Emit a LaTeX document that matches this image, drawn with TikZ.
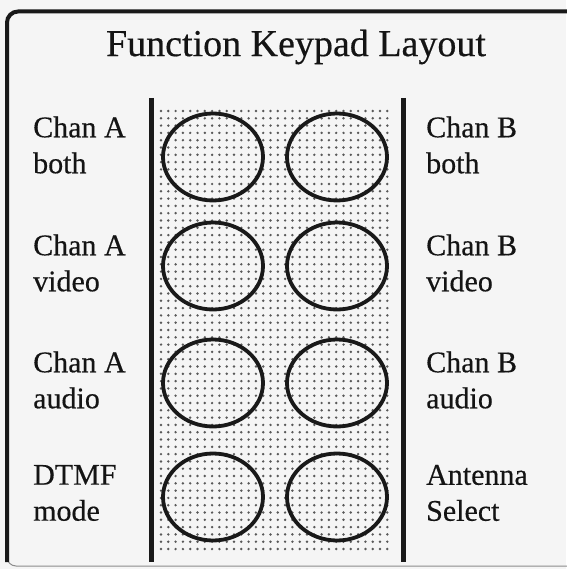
\documentclass[tikz,border=0pt]{standalone}
\usepackage{fontspec}
\setmainfont{Liberation Serif}[UprightFeatures={FakeBold=0.4}]
\usetikzlibrary{shapes.geometric}
\tikzset{
  frame/.style={line width=4pt, draw=black!90},
  divider/.style={line width=4.5pt, draw=black!90},
  keycap/.style={ellipse, draw=black!90, line width=3.8pt,
    minimum width=100pt, minimum height=87pt, inner sep=0pt},
  lbl/.style={anchor=west, align=left, inner sep=0pt,
    font=\fontsize{30}{36}\selectfont, text=black!92},
  ttl/.style={font=\fontsize{38}{40}\selectfont, text=black!92, inner sep=0pt},
  dot/.style={fill=black!65}
}
\begin{document}
\begin{tikzpicture}[x=1pt,y=-1pt]
\useasboundingbox (0,0) rectangle (566,569);
\fill[black!4] (0,0) rectangle (566,569);

% outer frame: heavy top and left edge, light bottom edge
\draw[line width=1pt, black!45, rounded corners=9pt] (7,540) -- (7,566) -- (600,566);
\draw[frame, rounded corners=11pt] (600,11.5) -- (7,11.5) -- (7,562);

% title
\node[ttl] (title) at (296,47) {Function Keypad Layout};

% stippled key panel
\foreach \i in {0,...,31}
  \foreach \j in {0,...,60}
    \fill[dot] ({161+7.3*\i},{111+7.3*\j}) circle (1.35pt);

% panel dividers
\coordinate (ltop) at (151.5,98);
\coordinate (lbot) at (151.5,562);
\coordinate (rtop) at (403.5,98);
\coordinate (rbot) at (403.5,562);
\draw[divider] (ltop) -- (lbot);
\draw[divider] (rtop) -- (rbot);

% keys
\foreach \r/\y in {1/157,2/266,3/383,4/497}{
  \node[keycap] (kA\r) at (213,\y) {};
  \node[keycap] (kB\r) at (337,\y) {};
}

% channel A labels
\node[lbl] (la1) at (33,145) {Chan A\\both};
\node[lbl] (la2) at (33,263) {Chan A\\video};
\node[lbl] (la3) at (33,380) {Chan A\\audio};
\node[lbl] (la4) at (33,493) {DTMF\\mode};

% channel B labels
\node[lbl] (lb1) at (426,145) {Chan B\\both};
\node[lbl] (lb2) at (426,263) {Chan B\\video};
\node[lbl] (lb3) at (426,380) {Chan B\\audio};
\node[lbl] (lb4) at (426,493) {Antenna\\Select};
\end{tikzpicture}
\end{document}
